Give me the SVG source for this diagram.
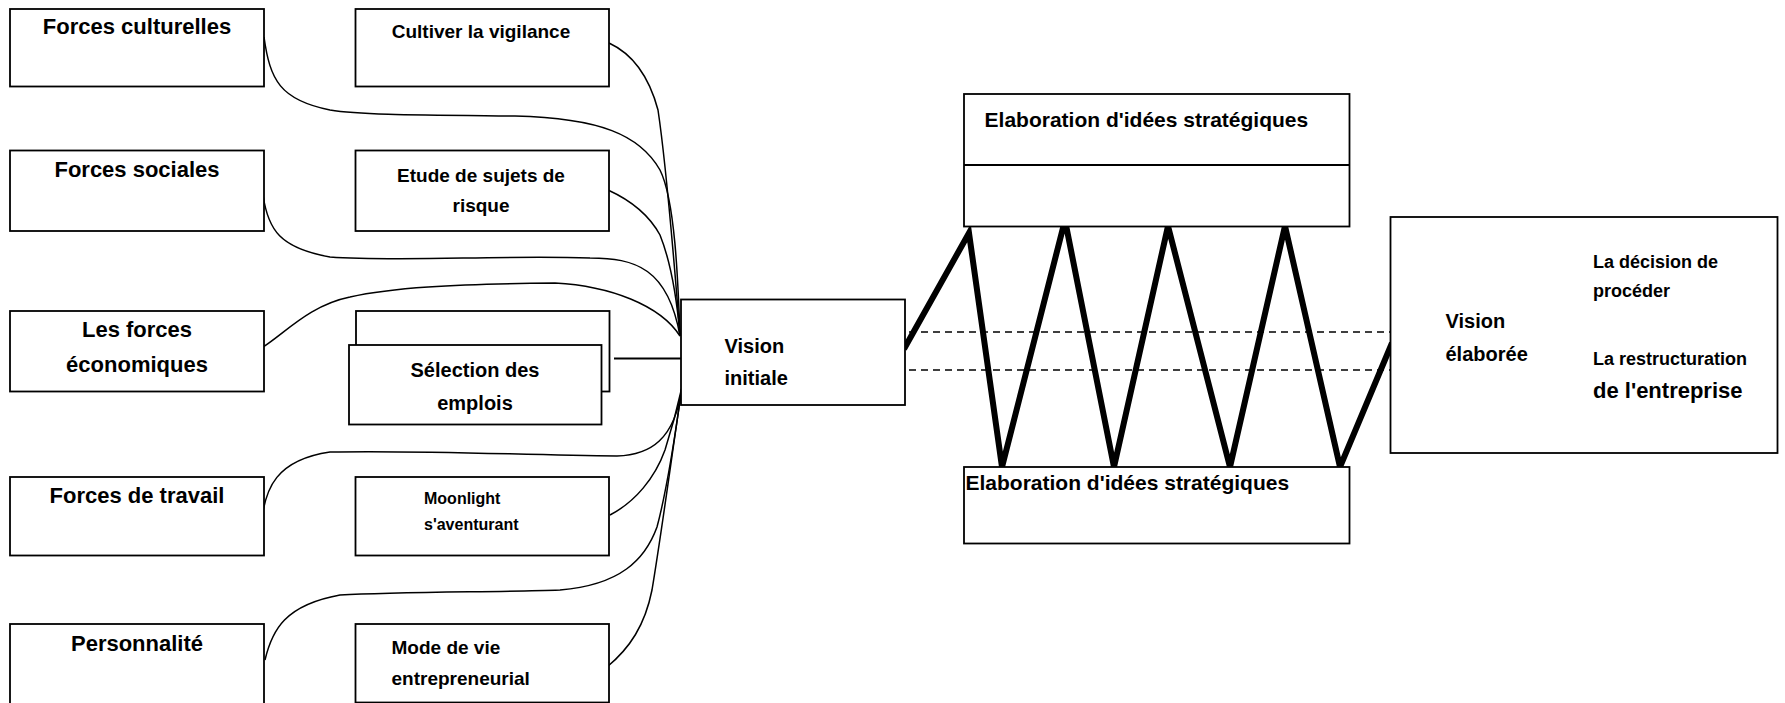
<svg xmlns="http://www.w3.org/2000/svg" width="1785" height="703" viewBox="0 0 1785 703">
  <style>
    .box { fill: #ffffff; stroke: #000000; stroke-width: 1.8; }
    .lbl { font-family: "Liberation Sans", Arial, sans-serif; font-weight: bold; fill: #000000; }
    .big { font-size: 22px; }
    .mid { font-size: 19px; }
    .c { text-anchor: middle; }
    .curve { fill: none; stroke: #000000; stroke-width: 1.5; }
    .zig { fill: none; stroke: #000000; stroke-width: 6; stroke-linejoin: miter; stroke-miterlimit: 12; }
    .dash { fill: none; stroke: #000000; stroke-width: 1.5; stroke-dasharray: 7 5; }
  </style>

  <rect width="1785" height="703" fill="#ffffff"/>

  <!-- links feeding into the initial vision, and the elaboration zigzag -->
  <g id="connectors">
    <path class="curve" d="M264,37 C270,80 280,100 330,110 C360,115 420,115 515,116 C600,118 640,135 660,170 C675,200 678,280 680,335"/>
    <path class="curve" d="M609,43 C635,55 650,80 658,110 C667,170 674,260 680,335"/>
    <path class="curve" d="M263,195 C268,230 280,248 330,257 C400,262 500,255 590,258 C635,258 668,268 680,336"/>
    <path class="curve" d="M608,190 C630,200 648,213 660,235 C672,265 677,300 680,336"/>
    <path class="curve" d="M263,347 C285,333 310,305 350,297 C390,288 450,284 555,283 C610,286 660,305 680,336"/>
    <path class="curve" d="M262,517 C266,490 275,460 330,452 C420,450 520,455 617,456 C650,455 675,440 682,387"/>
    <path class="curve" d="M610,515 C635,502 655,478 665,450 C673,425 678,405 682,387"/>
    <path class="curve" d="M265,660 C272,630 285,605 340,595 C400,592 500,592 560,590 C620,585 645,560 657,527 C667,490 676,430 682,387"/>
    <path class="curve" d="M607,667 C630,648 645,625 652,590 C662,530 674,440 682,387"/>
    <line x1="614" y1="358.5" x2="683" y2="358.5" stroke="#000000" stroke-width="2"/>

    <line class="dash" x1="909" y1="332" x2="1390" y2="332"/>
    <line class="dash" x1="909" y1="370" x2="1390" y2="370"/>
    <polyline class="zig" points="904,349 969,233 1002,467 1065,220 1114,467 1168,226 1230,467 1285,226 1340,467 1392,343"/>
  </g>

  <!-- left column: forces -->
  <g id="forces-culturelles">
    <rect class="box" x="10" y="9" width="254" height="77.5"/>
    <text class="lbl big c" x="137" y="34">Forces culturelles</text>
  </g>
  <g id="forces-sociales">
    <rect class="box" x="10" y="150.5" width="254" height="80.5"/>
    <text class="lbl big c" x="137" y="177">Forces sociales</text>
  </g>
  <g id="forces-economiques">
    <rect class="box" x="10" y="311" width="254" height="80.5"/>
    <text class="lbl big c" x="137" y="336.5">Les forces</text>
    <text class="lbl big c" x="137" y="372">économiques</text>
  </g>
  <g id="forces-travail">
    <rect class="box" x="10" y="477" width="254" height="78.5"/>
    <text class="lbl big c" x="137" y="502.5">Forces de travail</text>
  </g>
  <g id="personnalite">
    <rect class="box" x="10" y="624" width="254" height="82"/>
    <text class="lbl big c" x="137" y="650.5">Personnalité</text>
  </g>

  <!-- middle column: behaviours -->
  <g id="cultiver-vigilance">
    <rect class="box" x="355.5" y="9" width="253.5" height="77.5"/>
    <text class="lbl mid c" x="481" y="37.5">Cultiver la vigilance</text>
  </g>
  <g id="etude-sujets-risque">
    <rect class="box" x="355.5" y="150.5" width="253.5" height="80.5"/>
    <text class="lbl mid c" x="481" y="182">Etude de sujets de</text>
    <text class="lbl mid c" x="481" y="211.5">risque</text>
  </g>
  <g id="selection-emplois">
    <rect class="box" x="356" y="311" width="253.5" height="80.5"/>
    <rect class="box" x="349" y="345" width="252.5" height="79.5"/>
    <text class="lbl c" font-size="20" x="475" y="377">Sélection des</text>
    <text class="lbl c" font-size="20" x="475" y="410">emplois</text>
  </g>
  <g id="moonlight">
    <rect class="box" x="355.5" y="477" width="253.5" height="78.5"/>
    <text class="lbl" font-size="16" x="424" y="504">Moonlight</text>
    <text class="lbl" font-size="16" x="424" y="530">s'aventurant</text>
  </g>
  <g id="mode-de-vie">
    <rect class="box" x="355.5" y="624" width="253.5" height="78.5"/>
    <text class="lbl mid" x="391.5" y="654">Mode de vie</text>
    <text class="lbl mid" x="391.5" y="685">entrepreneurial</text>
  </g>

  <!-- initial vision -->
  <g id="vision-initiale">
    <rect class="box" x="681" y="299.5" width="224" height="105.5"/>
    <text class="lbl" font-size="20" x="724.5" y="353">Vision</text>
    <text class="lbl" font-size="20" x="724.5" y="385">initiale</text>
  </g>

  <!-- strategic idea elaboration, upper and lower -->
  <g id="elaboration-haut">
    <rect class="box" x="964" y="94" width="385.5" height="132.5"/>
    <line x1="964" y1="165" x2="1349.5" y2="165" stroke="#000000" stroke-width="1.8"/>
    <text class="lbl" font-size="21" x="984.6" y="126.5">Elaboration d'idées stratégiques</text>
  </g>
  <g id="elaboration-bas">
    <rect class="box" x="964" y="467" width="385.5" height="76.5"/>
    <text class="lbl" font-size="21" x="965.5" y="490">Elaboration d'idées stratégiques</text>
  </g>

  <!-- elaborated vision -->
  <g id="vision-elaboree">
    <rect class="box" x="1390.5" y="217" width="387" height="236"/>
    <text class="lbl" font-size="20" x="1445.5" y="328">Vision</text>
    <text class="lbl" font-size="20" x="1445.5" y="361">élaborée</text>
    <text class="lbl" font-size="18" x="1593" y="268">La décision de</text>
    <text class="lbl" font-size="18" x="1593" y="297">procéder</text>
    <text class="lbl" font-size="18" x="1593" y="365">La restructuration</text>
    <text class="lbl" font-size="22" x="1593" y="398">de l'entreprise</text>
  </g>
</svg>
